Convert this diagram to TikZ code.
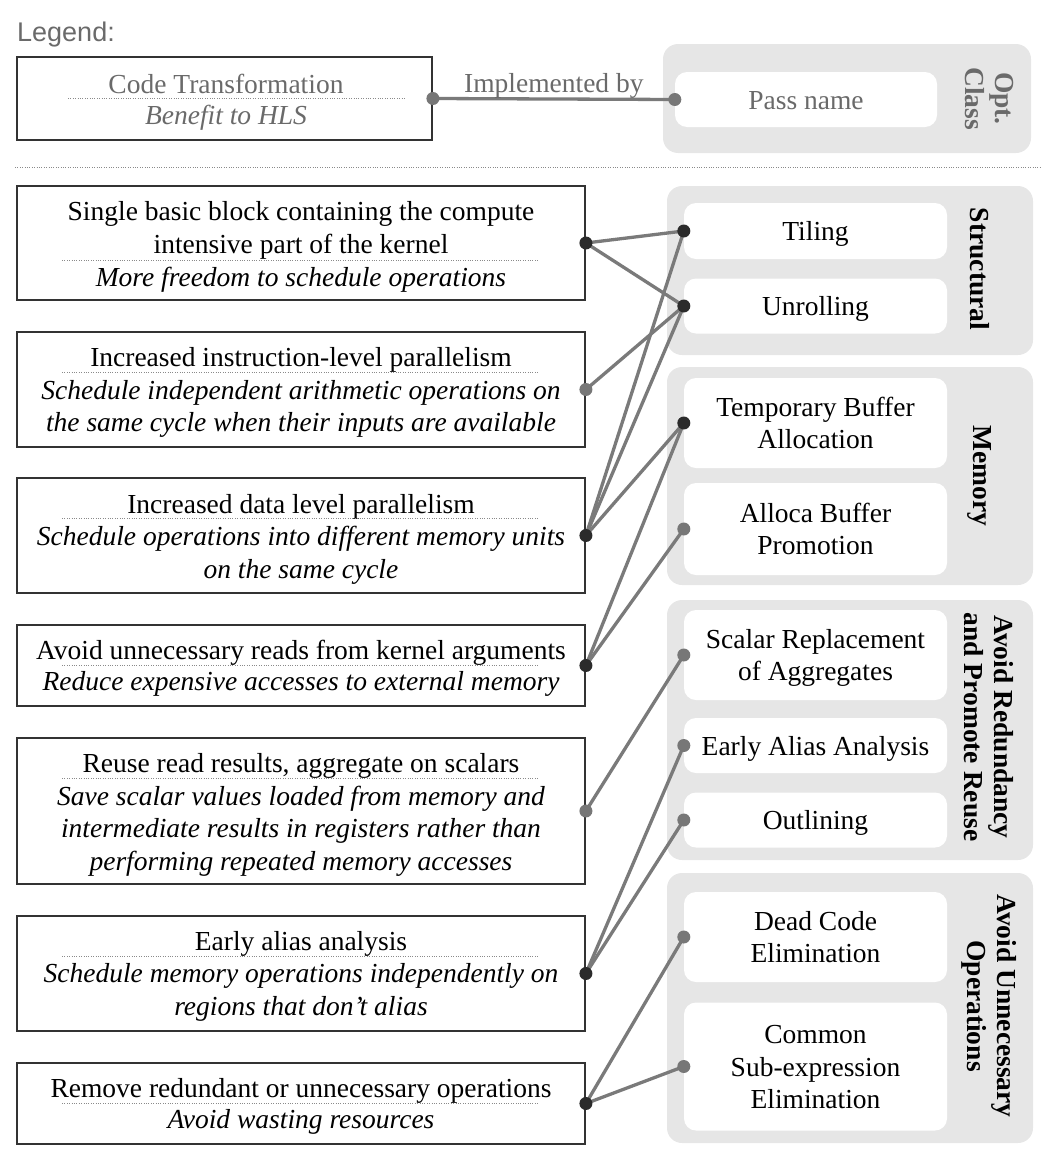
\documentclass[tikz,border=0pt]{standalone}
\usepackage{fontspec}
\setmainfont{Liberation Serif}
\newfontfamily\legendsans{Liberation Sans}
\definecolor{linegray}{HTML}{7A7A7A}
\definecolor{dotdark}{HTML}{2B2B2B}
\definecolor{dotgray}{HTML}{777777}
\definecolor{groupbg}{HTML}{E6E6E6}
\definecolor{legtext}{HTML}{6A6A6A}
\definecolor{boxline}{HTML}{333333}
\definecolor{sepgray}{HTML}{8A8A8A}
\newcommand{\st}{\rule[-6.75pt]{0pt}{32.5pt}}
\begin{document}
\begin{tikzpicture}[x=1pt,y=-1pt,
  font=\fontsize{27.5}{32.5}\selectfont,
  tbox/.style={draw=boxline, line width=1.8pt, minimum width=568pt, inner sep=0pt},
  ttext/.style={align=center, inner sep=0pt},
  btext/.style={align=center, inner sep=0pt, font=\fontsize{27.5}{32.5}\selectfont\itshape},
  grp/.style={fill=groupbg, rounded corners=15pt, minimum width=366pt, inner sep=0pt},
  pass/.style={fill=white, rounded corners=12pt, minimum width=263pt, inner sep=0pt, align=center},
  gtitle/.style={rotate=-90, align=center, inner sep=0pt, font=\fontsize{27.5}{30}\selectfont\bfseries},
  sepline/.style={draw=sepgray, line width=0.9pt, dash pattern=on 1pt off 1.4pt},
  conn/.style={draw=linegray, line width=3.3pt},
  ddot/.style={fill=dotdark},
  gdot/.style={fill=dotgray}
]
\useasboundingbox (0,0) rectangle (1055,1162);

% ---------- Legend ----------
\node[anchor=west, inner sep=0pt, text=legtext, font=\fontsize{27}{32}\selectfont\legendsans] (legtitle) at (17,35) {Legend:};
\node[draw=boxline, line width=1.8pt, minimum width=415pt, minimum height=83pt, inner sep=0pt] (legbox) at (224.5,98.5) {};
\node[ttext, text=legtext] (legct) at (226,84) {\st Code Transformation};
\node[btext, text=legtext] (legbf) at (226,115) {\st Benefit to HLS};
\path[sepline] (68,98) -- (405,98);
\node[fill=groupbg, rounded corners=15pt, minimum width=368pt, minimum height=109pt, inner sep=0pt] (leggrp) at (847,98.5) {};
\node[pass, minimum width=262pt, minimum height=55pt, text=legtext] (legpass) at (806,99.5) {\st Pass name};
\node[gtitle, text=legtext] (legclass) at (989,98.5) {Opt.\\Class};
\path[conn] (legbox.east) -- node[above=-2pt, text=legtext, inner sep=0pt] (legimpl) {\st Implemented by} (legpass.west);
\fill[gdot] (legbox.east) circle (6.5pt);
\fill[gdot] (legpass.west) circle (6.5pt);

\path[sepline] (15,167) -- (1040,167);

% ---------- Groups ----------
\node[grp, minimum height=169pt] (g1) at (850,270.5) {};
\node[grp, minimum height=218pt] (g2) at (850,476) {};
\node[grp, minimum height=260pt] (g3) at (850,730) {};
\node[grp, minimum height=270pt] (g4) at (850,1008) {};
\node[gtitle] (g1t) at (980,269) {Structural};
\node[gtitle] (g2t) at (980,476) {Memory};
\node[gtitle] (g3t) at (989,727) {Avoid Redundancy\\and Promote Reuse};
\node[gtitle] (g4t) at (989,1006) {Avoid Unnecessary\\Operations};

% ---------- Passes ----------
\node[pass, minimum height=56pt] (tiling) at (815.5,231) {\st Tiling};
\node[pass, minimum height=55pt] (unroll) at (815.5,306) {\st Unrolling};
\node[pass, minimum height=90pt] (tempbuf) at (815.5,423) {\st Temporary Buffer\\\st Allocation};
\node[pass, minimum height=92pt] (alloca) at (815.5,529) {\st Alloca Buffer\\\st Promotion};
\node[pass, minimum height=90pt] (sroa) at (815.5,655) {\st Scalar Replacement\\\st of Aggregates};
\node[pass, minimum height=55pt] (alias) at (815.5,745.5) {\st Early Alias Analysis};
\node[pass, minimum height=55pt] (outline) at (815.5,820) {\st Outlining};
\node[pass, minimum height=90pt] (dce) at (815.5,937) {\st Dead Code\\\st Elimination};
\node[pass, minimum height=128pt] (cse) at (815.5,1066.5) {\st Common\\\st Sub-expression\\\st Elimination};

% ---------- Transformations ----------
\node[tbox, minimum height=114pt] (l1) at (301,243) {};
\node[ttext] (l1t) at (301,227.5) {\st Single basic block containing the compute\\\st intensive part of the kernel};
\path[sepline] (62,260) -- (538,260);
\node[btext] (l1b) at (301,277) {\st More freedom to schedule operations};

\node[tbox, minimum height=115pt] (l2) at (301,389.5) {};
\node[ttext] (l2t) at (301,357) {\st Increased instruction-level parallelism};
\path[sepline] (62,372) -- (538,372);
\node[btext] (l2b) at (301,406) {\st Schedule independent arithmetic operations on\\\st the same cycle when their inputs are available};

\node[tbox, minimum height=115pt] (l3) at (301,535.5) {};
\node[ttext] (l3t) at (301,504) {\st Increased data level parallelism};
\path[sepline] (62,518) -- (538,518);
\node[btext] (l3b) at (301,552.5) {\st Schedule operations into different memory units\\\st on the same cycle};

\node[tbox, minimum height=81pt] (l4) at (301,665.5) {};
\node[ttext] (l4t) at (301,650) {\st Avoid unnecessary reads from kernel arguments};
\path[sepline] (62,665) -- (538,665);
\node[btext] (l4b) at (301,681) {\st Reduce expensive accesses to external memory};

\node[tbox, minimum height=146pt] (l5) at (301,811) {};
\node[ttext] (l5t) at (301,763) {\st Reuse read results, aggregate on scalars};
\path[sepline] (62,778) -- (538,778);
\node[btext] (l5b) at (301,828) {\st Save scalar values loaded from memory and\\\st intermediate results in registers rather than\\\st performing repeated memory accesses};

\node[tbox, minimum height=115pt] (l6) at (301,973.5) {};
\node[ttext] (l6t) at (301,941) {\st Early alias analysis};
\path[sepline] (62,956) -- (538,956);
\node[btext] (l6b) at (301,989.5) {\st Schedule memory operations independently on\\\st regions that don’t alias};

\node[tbox, minimum height=81pt] (l7) at (301,1103.5) {};
\node[ttext] (l7t) at (301,1088) {\st Remove redundant or unnecessary operations};
\path[sepline] (62,1103) -- (538,1103);
\node[btext] (l7b) at (301,1119) {\st Avoid wasting resources};

% ---------- Connectors ----------
\path[conn] (l1.east) -- (tiling.west);
\path[conn] (l1.east) -- (unroll.west);
\path[conn] (l2.east) -- (unroll.west);
\path[conn] (l3.east) -- (tiling.west);
\path[conn] (l3.east) -- (unroll.west);
\path[conn] (l3.east) -- (tempbuf.west);
\path[conn] (l4.east) -- (tempbuf.west);
\path[conn] (l4.east) -- (alloca.west);
\path[conn] (l5.east) -- (sroa.west);
\path[conn] (l6.east) -- (alias.west);
\path[conn] (l6.east) -- (outline.west);
\path[conn] (l7.east) -- (dce.west);
\path[conn] (l7.east) -- (cse.west);

% ---------- Dots ----------
\foreach \n in {l1,l3,l4,l6,l7} \fill[ddot] (\n.east) circle (6.5pt);
\fill[gdot] (l2.east) circle (6.5pt);
\fill[gdot] (l5.east) circle (6.5pt);
\foreach \n in {tiling,unroll,tempbuf} \fill[ddot] (\n.west) circle (6.5pt);
\foreach \n in {alloca,sroa,alias,outline,dce,cse} \fill[gdot] (\n.west) circle (6.5pt);
\end{tikzpicture}
\end{document}
